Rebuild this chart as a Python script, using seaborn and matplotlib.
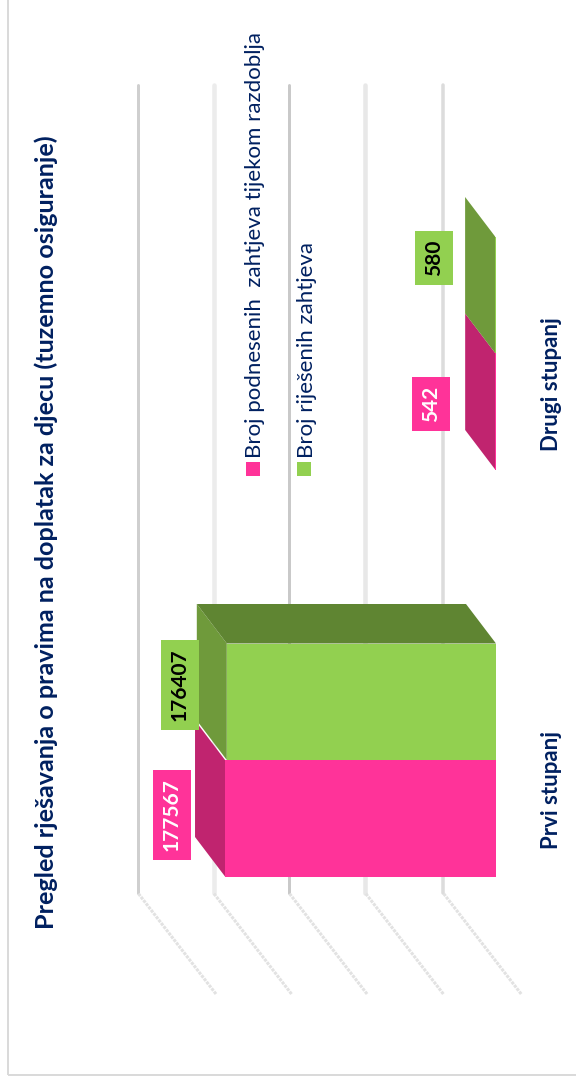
import matplotlib
matplotlib.use("Agg")
import matplotlib.pyplot as plt
from matplotlib.patches import Polygon, Rectangle
import pandas as pd
import seaborn as sns

categories = ["Prvi stupanj", "Drugi stupanj"]
series_names = ["Broj podnesenih  zahtjeva tijekom razdoblja", "Broj riješenih zahtjeva"]
submitted = [177567, 542]
resolved = [176407, 580]
grid_values = [-16500, 34500, 84500, 134000, 183500]
title = "Pregled rješavanja o pravima na doplatak za djecu (tuzemno osiguranje)"

W, H = 576, 1084
PINK, GREEN = "#FF3399", "#92D050"
PINK_SIDE, GREEN_SIDE, GREEN_TOP = "#C0246F", "#6F9A3B", "#5F8532"
NAVY = "#002060"
FONT = "Lato"

sns.set_theme(style="white")
plt.rcParams["font.family"] = [FONT, "DejaVu Sans"]

df = pd.DataFrame({
    "category": categories * 2,
    "series": [series_names[0]] * 2 + [series_names[1]] * 2,
    "value": submitted + resolved,
})

fig = plt.figure(figsize=(W / 100, H / 100), dpi=100, facecolor="white")
ax = fig.add_axes([0, 0, 1, 1])
sns.barplot(data=df, x="value", y="category", hue="series", order=categories,
            hue_order=series_names, palette=[PINK, GREEN], orient="h", dodge=True,
            width=233 / 407, gap=0, saturation=1, legend=False, ax=ax, zorder=3,
            errorbar=None, linewidth=0)

# scales: front plane of the 3D box, rotated chart (value grows to the left)
SX = 0.001526          # px per unit
SY = 407.0             # px per category
ax.set_xlim(496 / SX, -(W - 496) / SX)
ax.set_ylim(-(H - 760) / SY, 760 / SY)
ax.axis("off")

DEPTH_V = 30 / SX
DEPTH_C = 39.5 / SY
FLOOR_V = 78 / SX
FLOOR_C = 101 / SY

def fx(px):
    return px / W

def fy(py):
    return 1 - py / H

# back wall + floor grid
back_top = 760 / SY - 85 / SY
grid_style = [("#cfcfcf", 3.0), ("#ececec", 4.5), ("#c9c9c9", 3.0), ("#e8e8e8", 4.5), ("#dcdcdc", 3.5)]
floor_front = -(994 - 760) / SY
for v, (c, lw_px) in zip(grid_values, grid_style[::-1]):
    bx, by = v + FLOOR_V, floor_front + FLOOR_C
    ax.plot([bx, bx], [by, back_top], color=c, lw=lw_px * 0.72, zorder=1, solid_capstyle="round")
    ax.plot([v, bx], [floor_front, by], color="#e2e2e2", lw=2.2, ls=(0, (1, 0.35)), zorder=1)

# 3D faces, derived from the bars seaborn drew
bars = sorted(ax.patches, key=lambda p: p.get_y())
for bar, side in zip(bars, [PINK_SIDE, GREEN_SIDE, PINK_SIDE, GREEN_SIDE]):
    v = bar.get_width()
    y0, y1 = bar.get_y(), bar.get_y() + bar.get_height()
    ax.add_patch(Polygon([(v, y0), (v, y1), (v + DEPTH_V, y1 + DEPTH_C), (v + DEPTH_V, y0 + DEPTH_C)],
                         closed=True, fc=side, ec="none", zorder=2.5))

# top of the tall green bar
g = bars[1]
v, y1 = g.get_width(), g.get_y() + g.get_height()
ax.add_patch(Polygon([(0, y1), (v, y1), (v + DEPTH_V, y1 + DEPTH_C), (DEPTH_V, y1 + DEPTH_C)],
                     closed=True, fc=GREEN_TOP, ec="none", zorder=2.6))

# value labels
label_vals = [submitted[0], resolved[0], submitted[1], resolved[1]]
label_style = [("white", PINK, -53, 3.5), ("black", GREEN, -47, 17),
               ("white", PINK, -64, 7.5), ("black", GREEN, -61, 37)]
for val, bar, (tc, bg, ox, oy) in zip(label_vals, bars, label_style):
    ax.annotate(str(val), (bar.get_width(), bar.get_y() + bar.get_height() / 2),
                xytext=(ox * 0.72, oy * 0.72), textcoords="offset points",
                rotation=90, ha="center", va="center", color=tc, fontsize=15,
                fontweight="bold", zorder=5,
                bbox=dict(boxstyle="square,pad=0.42", fc=bg, ec="none"))

# category labels
for cat, py in zip(categories, [790, 384]):
    fig.text(fx(552), fy(py), cat, rotation=90, ha="center", va="center",
             color=NAVY, fontsize=16, fontweight="bold")

# title
fig.text(fx(46), fy(532), title, rotation=90, ha="center", va="center",
         color=NAVY, fontsize=18.1, fontweight="bold")

# legend
for name, col, px, tx in zip(series_names, [PINK, GREEN], [246, 297], [255, 307]):
    fig.add_artist(Rectangle((fx(px), fy(476)), 14 / W, 14 / H, transform=fig.transFigure,
                             fc=col, ec="none"))
    fig.text(fx(tx), fy(458), name, rotation=90, ha="center", va="bottom",
             color=NAVY, fontsize=16)

# chart frame
fig.add_artist(Rectangle((fx(8), fy(1075)), 640 / W, 1100 / H, transform=fig.transFigure,
                         fc="none", ec="#d9d9d9", lw=1.4))

fig.savefig("out.png", dpi=100)
